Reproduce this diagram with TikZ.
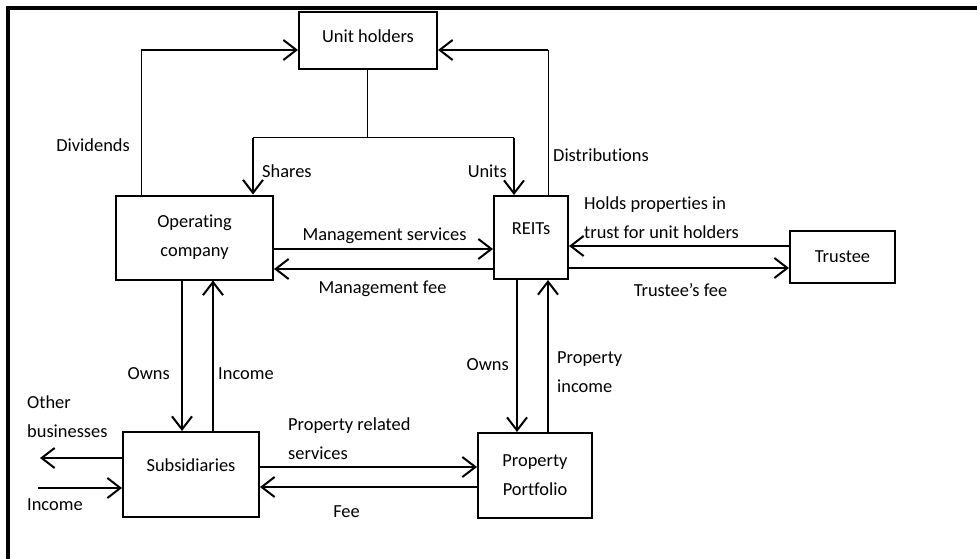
\documentclass[tikz,border=0pt]{standalone}
\usepackage{fontspec}
\setmainfont{Carlito}[Ligatures={NoCommon,NoContextual}]
\usetikzlibrary{arrows.meta}
\begin{document}
\begin{tikzpicture}[x=1pt,y=-1pt,
  font=\fontsize{18.4}{29}\selectfont,
  box/.style={draw,line width=2pt,inner sep=0pt,align=center},
  arr/.style={line width=2pt,-{Straight Barb[length=13pt,width=20pt]}},
  hair/.style={line width=1pt},
  lbl/.style={inner sep=0pt,align=left},
]
\useasboundingbox (0,0) rectangle (977,559);

% outer frame (top and left edges only)
\draw[line width=3.5pt] (977,8) -- (8,8) -- (8,559);

% boxes
\node[box,minimum width=138pt,minimum height=57pt] (uh) at (368,40.5)
  {\raisebox{4pt}[\height][\depth]{Unit holders}};
\node[box,minimum width=157pt,minimum height=84pt] (opco) at (194.5,237.5)
  {Operating\\company};
\node[box,minimum width=74pt,minimum height=83pt] (reits) at (531,237.5)
  {\raisebox{8.5pt}[\height][\depth]{REITs}};
\node[box,minimum width=105pt,minimum height=52pt] (trustee) at (842.5,257)
  {Trustee};
\node[box,minimum width=136pt,minimum height=85pt] (subs) at (191,474.5)
  {\raisebox{9.5pt}[\height][\depth]{Subsidiaries}};
\node[box,minimum width=114pt,minimum height=85pt] (pp) at (535,475.5)
  {Property\\Portfolio};

% routing lanes
\coordinate (dv) at (141,50);
\coordinate (ds) at (548,50);
\coordinate (sp) at (367,138);
\coordinate (sl) at (253,138);
\coordinate (sr) at (514,138);
\coordinate (yms) at (0,249);
\coordinate (ymf) at (0,269);
\coordinate (yht) at (0,246);
\coordinate (ytf) at (0,268);
\coordinate (xo1) at (182,0);
\coordinate (xi1) at (213,0);
\coordinate (xo2) at (517,0);
\coordinate (xi2) at (548,0);
\coordinate (yps) at (0,467);
\coordinate (yfe) at (0,487);
\coordinate (obend) at (40,458);
\coordinate (incst) at (38,488);

% dividends and distributions back to unit holders
\draw[hair] (opco.north -| dv) -- (dv);
\draw[arr] (dv) -- (uh.west |- dv);
\draw[hair] (reits.north -| ds) -- (ds);
\draw[arr] (ds) -- (uh.east |- ds);

% shares and units from unit holders
\draw[hair] (uh.south -| sp) -- (sp);
\draw[hair] (sl) -- (sr);
\draw[arr] (sl) -- (opco.north -| sl);
\draw[arr] (sr) -- (reits.north -| sr);

% operating company <-> REITs
\draw[arr] (opco.east |- yms) -- (reits.west |- yms);
\draw[arr] (reits.west |- ymf) -- (opco.east |- ymf);

% REITs <-> trustee
\draw[arr] (trustee.west |- yht) -- (reits.east |- yht);
\draw[arr] (reits.east |- ytf) -- (trustee.west |- ytf);

% ownership and income flows
\draw[arr] (opco.south -| xo1) -- (subs.north -| xo1);
\draw[arr] (subs.north -| xi1) -- (opco.south -| xi1);
\draw[arr] (reits.south -| xo2) -- (pp.north -| xo2);
\draw[arr] (pp.north -| xi2) -- (reits.south -| xi2);

% subsidiaries <-> property portfolio
\draw[arr] (subs.east |- yps) -- (pp.west |- yps);
\draw[arr] (pp.west |- yfe) -- (subs.east |- yfe);

% other businesses and income
\draw[arr] (subs.west |- obend) -- (obend);
\draw[arr] (incst) -- (subs.west |- incst);

% labels
\node[lbl,anchor=base east] (l-div) at (130,152) {Dividends};
\node[lbl,anchor=base west] (l-sh) at (262,177) {Shares};
\node[lbl,anchor=base east] (l-un) at (507,177) {Units};
\node[lbl,anchor=base west] (l-dis) at (553,161) {Distributions};
\node[lbl,anchor=north west] (l-hold) at (584,197) {Holds properties in\\trust for unit holders};
\node[lbl,anchor=base] (l-ms) at (384.5,240) {Management services};
\node[lbl,anchor=base] (l-mf) at (382.5,293) {Management fee};
\node[lbl,anchor=base] (l-tf) at (680.5,296) {Trustee’s fee};
\node[lbl,anchor=base east] (l-own1) at (170,379) {Owns};
\node[lbl,anchor=base west] (l-inc1) at (218,379) {Income};
\node[lbl,anchor=base east] (l-own2) at (509,370) {Owns};
\node[lbl,anchor=north west] (l-pinc) at (557,351) {Property\\income};
\node[lbl,anchor=north west] (l-ob) at (27,396) {Other\\businesses};
\node[lbl,anchor=base west] (l-inc2) at (27,510) {Income};
\node[lbl,anchor=north west] (l-prs) at (288,418) {Property related\\services};
\node[lbl,anchor=base] (l-fee) at (346.5,517) {Fee};
\end{tikzpicture}
\end{document}
